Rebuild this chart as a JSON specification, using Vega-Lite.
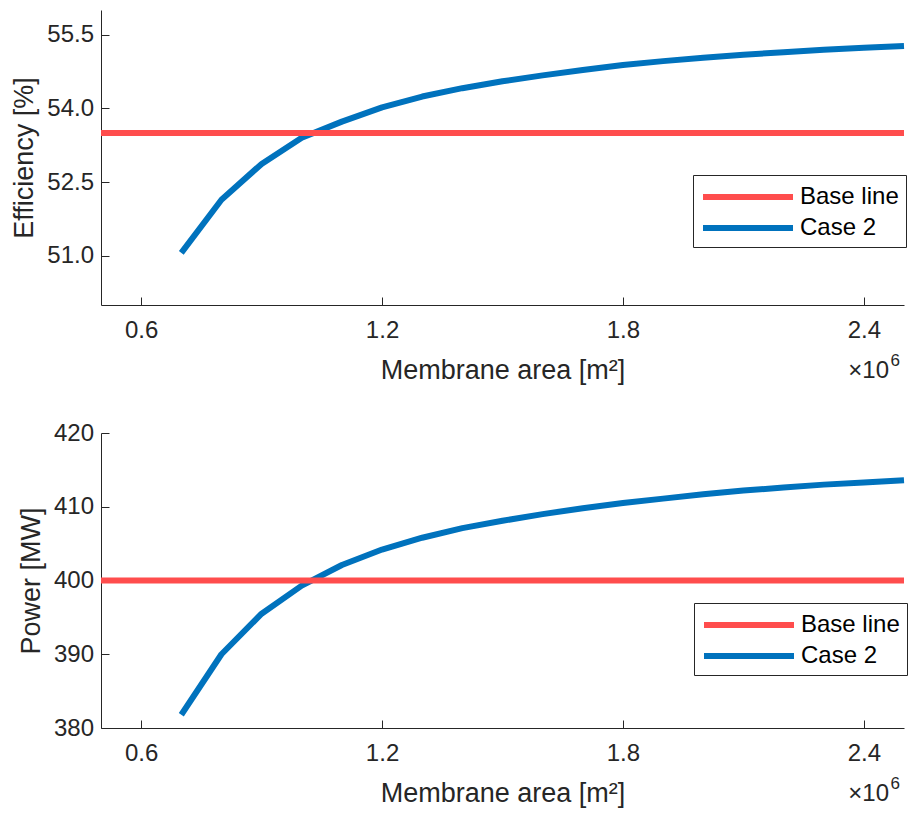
{
  "$schema": "https://vega.github.io/schema/vega-lite/v6.json",
  "background": "white",
  "padding": {"left": 10, "top": 10, "right": 2, "bottom": 5},
  "spacing": 128,
  "bounds": "flush",
  "datasets": {
    "eff": [
      {"area": 0.7, "value": 51.06, "series": "Case 2"},
      {"area": 0.8, "value": 52.14, "series": "Case 2"},
      {"area": 0.9, "value": 52.87, "series": "Case 2"},
      {"area": 1.0, "value": 53.40, "series": "Case 2"},
      {"area": 1.1, "value": 53.73, "series": "Case 2"},
      {"area": 1.2, "value": 54.02, "series": "Case 2"},
      {"area": 1.3, "value": 54.24, "series": "Case 2"},
      {"area": 1.4, "value": 54.41, "series": "Case 2"},
      {"area": 1.5, "value": 54.55, "series": "Case 2"},
      {"area": 1.6, "value": 54.67, "series": "Case 2"},
      {"area": 1.7, "value": 54.78, "series": "Case 2"},
      {"area": 1.8, "value": 54.88, "series": "Case 2"},
      {"area": 1.9, "value": 54.96, "series": "Case 2"},
      {"area": 2.0, "value": 55.03, "series": "Case 2"},
      {"area": 2.1, "value": 55.09, "series": "Case 2"},
      {"area": 2.2, "value": 55.14, "series": "Case 2"},
      {"area": 2.3, "value": 55.19, "series": "Case 2"},
      {"area": 2.4, "value": 55.23, "series": "Case 2"},
      {"area": 2.5, "value": 55.27, "series": "Case 2"},
      {"area": 0.5, "value": 53.5, "series": "Base line"},
      {"area": 2.5, "value": 53.5, "series": "Base line"}
    ],
    "pow": [
      {"area": 0.7, "value": 381.8, "series": "Case 2"},
      {"area": 0.8, "value": 390.0, "series": "Case 2"},
      {"area": 0.9, "value": 395.5, "series": "Case 2"},
      {"area": 1.0, "value": 399.3, "series": "Case 2"},
      {"area": 1.1, "value": 402.1, "series": "Case 2"},
      {"area": 1.2, "value": 404.2, "series": "Case 2"},
      {"area": 1.3, "value": 405.8, "series": "Case 2"},
      {"area": 1.4, "value": 407.1, "series": "Case 2"},
      {"area": 1.5, "value": 408.1, "series": "Case 2"},
      {"area": 1.6, "value": 409.0, "series": "Case 2"},
      {"area": 1.7, "value": 409.8, "series": "Case 2"},
      {"area": 1.8, "value": 410.5, "series": "Case 2"},
      {"area": 1.9, "value": 411.1, "series": "Case 2"},
      {"area": 2.0, "value": 411.7, "series": "Case 2"},
      {"area": 2.1, "value": 412.2, "series": "Case 2"},
      {"area": 2.2, "value": 412.6, "series": "Case 2"},
      {"area": 2.3, "value": 413.0, "series": "Case 2"},
      {"area": 2.4, "value": 413.3, "series": "Case 2"},
      {"area": 2.5, "value": 413.6, "series": "Case 2"},
      {"area": 0.5, "value": 400, "series": "Base line"},
      {"area": 2.5, "value": 400, "series": "Base line"}
    ],
    "note": [{"base": "×10", "exp": "6"}]
  },
  "vconcat": [
    {
      "width": 803,
      "height": 295,
      "data": {"name": "eff"},
      "layer": [
        {
          "transform": [{"filter": "datum.series === 'Case 2'"}],
          "mark": {"type": "line", "strokeWidth": 6, "strokeCap": "butt", "strokeJoin": "round"},
          "encoding": {
            "x": {"field": "area", "type": "quantitative", "scale": {"domain": [0.5, 2.5], "nice": false, "zero": false},
              "axis": {"values": [0.6, 1.2, 1.8, 2.4], "format": ".1f", "title": "Membrane area [m²]"}},
            "y": {"field": "value", "type": "quantitative", "scale": {"domain": [50, 56], "nice": false, "zero": false},
              "axis": {"values": [51, 52.5, 54, 55.5], "format": ".1f", "title": "Efficiency [%]"}},
            "color": {"field": "series", "type": "nominal", "scale": {"domain": ["Base line", "Case 2"], "range": ["#ff4d4d", "#0072bd"]},
              "legend": {"title": null, "orient": "none", "legendX": 592, "legendY": 165}}
          }
        },
        {
          "transform": [{"filter": "datum.series === 'Base line'"}],
          "mark": {"type": "line", "strokeWidth": 6, "strokeCap": "butt"},
          "encoding": {
            "x": {"field": "area", "type": "quantitative"},
            "y": {"field": "value", "type": "quantitative"},
            "color": {"field": "series", "type": "nominal",
              "legend": {"title": null, "orient": "none", "legendX": 592, "legendY": 165}}
          }
        },
        {
          "data": {"name": "note"},
          "mark": {"type": "text", "align": "right", "baseline": "alphabetic", "dy": 73, "dx": -15, "fontSize": 24, "color": "#262626"},
          "encoding": {
            "x": {"datum": 2.5, "type": "quantitative"},
            "y": {"datum": 50, "type": "quantitative"},
            "text": {"field": "base"}
          }
        },
        {
          "data": {"name": "note"},
          "mark": {"type": "text", "align": "right", "baseline": "alphabetic", "dy": 61, "dx": -4, "fontSize": 17, "color": "#262626"},
          "encoding": {
            "x": {"datum": 2.5, "type": "quantitative"},
            "y": {"datum": 50, "type": "quantitative"},
            "text": {"field": "exp"}
          }
        }
      ]
    },
    {
      "width": 803,
      "height": 295,
      "data": {"name": "pow"},
      "layer": [
        {
          "transform": [{"filter": "datum.series === 'Case 2'"}],
          "mark": {"type": "line", "strokeWidth": 6, "strokeCap": "butt", "strokeJoin": "round"},
          "encoding": {
            "x": {"field": "area", "type": "quantitative", "scale": {"domain": [0.5, 2.5], "nice": false, "zero": false},
              "axis": {"values": [0.6, 1.2, 1.8, 2.4], "format": ".1f", "title": "Membrane area [m²]"}},
            "y": {"field": "value", "type": "quantitative", "scale": {"domain": [380, 420], "nice": false, "zero": false},
              "axis": {"values": [380, 390, 400, 410, 420], "format": "d", "title": "Power [MW]"}},
            "color": {"field": "series", "type": "nominal", "scale": {"domain": ["Base line", "Case 2"], "range": ["#ff4d4d", "#0072bd"]},
              "legend": {"title": null, "orient": "none", "legendX": 593, "legendY": 170}}
          }
        },
        {
          "transform": [{"filter": "datum.series === 'Base line'"}],
          "mark": {"type": "line", "strokeWidth": 6, "strokeCap": "butt"},
          "encoding": {
            "x": {"field": "area", "type": "quantitative"},
            "y": {"field": "value", "type": "quantitative"},
            "color": {"field": "series", "type": "nominal",
              "legend": {"title": null, "orient": "none", "legendX": 593, "legendY": 170}}
          }
        },
        {
          "data": {"name": "note"},
          "mark": {"type": "text", "align": "right", "baseline": "alphabetic", "dy": 73, "dx": -15, "fontSize": 24, "color": "#262626"},
          "encoding": {
            "x": {"datum": 2.5, "type": "quantitative"},
            "y": {"datum": 380, "type": "quantitative"},
            "text": {"field": "base"}
          }
        },
        {
          "data": {"name": "note"},
          "mark": {"type": "text", "align": "right", "baseline": "alphabetic", "dy": 61, "dx": -4, "fontSize": 17, "color": "#262626"},
          "encoding": {
            "x": {"datum": 2.5, "type": "quantitative"},
            "y": {"datum": 380, "type": "quantitative"},
            "text": {"field": "exp"}
          }
        }
      ]
    }
  ],
  "resolve": {"scale": {"x": "independent", "y": "independent", "color": "independent"}, "legend": {"color": "independent"}},
  "config": {
    "font": "Liberation Sans",
    "view": {"stroke": null},
    "axis": {
      "grid": false,
      "domainColor": "#262626",
      "domainWidth": 1,
      "tickColor": "#262626",
      "tickWidth": 1,
      "tickSize": -8,
      "labelColor": "#262626",
      "labelFontSize": 24,
      "labelFont": "Liberation Sans",
      "titleColor": "#262626",
      "titleFontSize": 27,
      "titleFont": "Liberation Sans",
      "titleFontWeight": "normal"
    },
    "axisY": {"labelPadding": 15.5, "titlePadding": 8},
    "axisX": {"labelPadding": 21.5, "titlePadding": 15},
    "legend": {
      "strokeColor": "#262626",
      "fillColor": "white",
      "padding": 7,
      "symbolType": "M-1,0H6.5",
      "symbolSize": 576,
      "symbolStrokeWidth": 6,
      "labelFontSize": 24,
      "labelFont": "Liberation Sans",
      "labelColor": "#000000",
      "labelOffset": 70,
      "rowPadding": 4,
      "labelLimit": 300
    }
  }
}
